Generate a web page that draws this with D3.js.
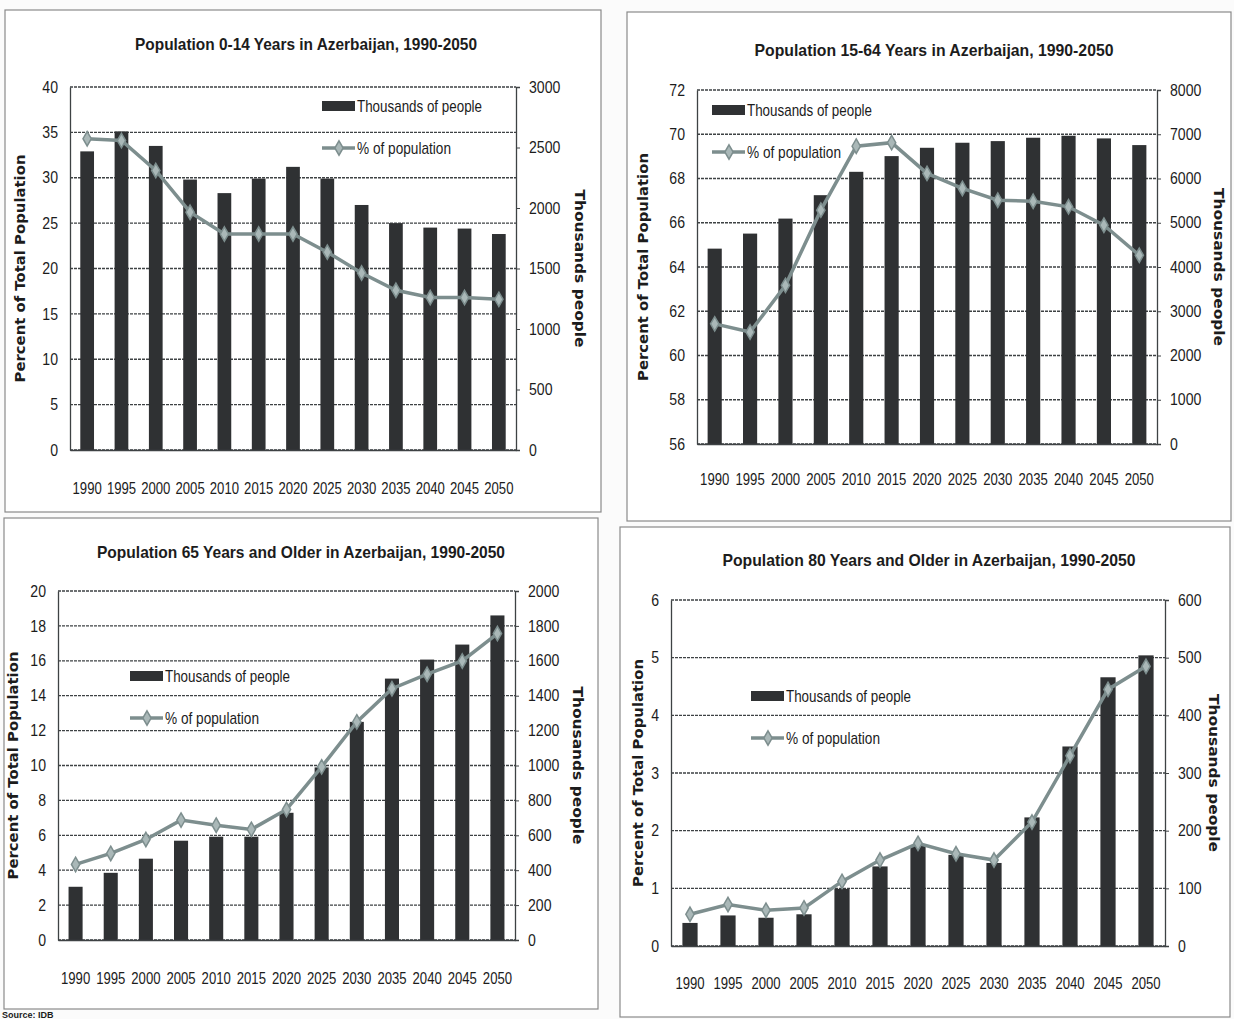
<!DOCTYPE html>
<html>
<head>
<meta charset="utf-8">
<script src="https://cdn.jsdelivr.net/npm/d3@7"></script>
<style>
  html, body { margin: 0; padding: 0; background: #ffffff; }
  svg { display: block; }
</style>
</head>
<body>
<svg id="chart" width="1234" height="1019"></svg>
<script>
// ---------------- DATA ----------------
const years = ["1990","1995","2000","2005","2010","2015","2020","2025","2030","2035","2040","2045","2050"];

// Population 0-14
const pop014Thousands = [2468, 2633, 2513, 2235, 2123, 2243, 2340, 2243, 2025, 1875, 1838, 1830, 1785];
const pop014Percent   = [34.3, 34.1, 30.8, 26.2, 23.8, 23.8, 23.8, 21.8, 19.5, 17.6, 16.8, 16.8, 16.6];

// Population 15-64
const pop1564Thousands = [4415, 4755, 5094, 5623, 6151, 6506, 6694, 6808, 6845, 6921, 6966, 6906, 6755];
const pop1564Percent   = [61.43, 61.06, 63.17, 66.57, 69.46, 69.62, 68.23, 67.55, 67.02, 66.97, 66.72, 65.89, 64.53];

// Population 65+
const pop65Thousands = [305, 385, 466, 569, 592, 592, 729, 989, 1250, 1498, 1607, 1693, 1860];
const pop65Percent   = [4.33, 4.96, 5.76, 6.87, 6.58, 6.34, 7.48, 9.92, 12.5, 14.4, 15.23, 15.99, 17.56];

// Population 80+
const pop80Thousands = [40, 53, 49, 55, 99, 138, 175, 158, 144, 223, 346, 466, 504];
const pop80Percent   = [0.55, 0.72, 0.62, 0.66, 1.12, 1.49, 1.78, 1.60, 1.49, 2.15, 3.30, 4.45, 4.85];

// Tick labels
const ticksLeft014  = [0, 5, 10, 15, 20, 25, 30, 35, 40];
const ticksRight014 = [0, 500, 1000, 1500, 2000, 2500, 3000];
const ticksLeft1564  = [56, 58, 60, 62, 64, 66, 68, 70, 72];
const ticksRight1564 = [0, 1000, 2000, 3000, 4000, 5000, 6000, 7000, 8000];
const ticksLeft65  = [0, 2, 4, 6, 8, 10, 12, 14, 16, 18, 20];
const ticksRight65 = [0, 200, 400, 600, 800, 1000, 1200, 1400, 1600, 1800, 2000];
const ticksLeft80  = [0, 1, 2, 3, 4, 5, 6];
const ticksRight80 = [0, 100, 200, 300, 400, 500, 600];

const titles = [
  "Population 0-14 Years in Azerbaijan, 1990-2050",
  "Population 15-64 Years in Azerbaijan, 1990-2050",
  "Population 65 Years and Older in Azerbaijan, 1990-2050",
  "Population 80 Years and Older in Azerbaijan, 1990-2050"
];
const legendBar = "Thousands of people";
const legendLine = "% of population";
const leftTitle = "Percent of Total Population";
const rightTitle = "Thousands people";
const sourceNote = "Source: IDB";

// ---------------- LAYOUT ----------------
const panels = [
  { title: titles[0], bars: pop014Thousands, line: pop014Percent,
    lt: ticksLeft014, rt: ticksRight014,
    box: [5, 10, 596, 502], plot: {l: 70, r: 516, t: 87, b: 450}, titleX: 306, titleY: 50, titleW: 342,
    legend: {x: 322, y1: 106, y2: 148}, leftTitleX: 21, rightTitleX: 579, xlabY: 495 },
  { title: titles[1], bars: pop1564Thousands, line: pop1564Percent,
    lt: ticksLeft1564, rt: ticksRight1564,
    box: [627, 12, 604, 509], plot: {l: 697, r: 1157, t: 90, b: 444}, titleX: 934, titleY: 56, titleW: 359,
    legend: {x: 712, y1: 110, y2: 152}, leftTitleX: 644, rightTitleX: 1218, xlabY: 486 },
  { title: titles[2], bars: pop65Thousands, line: pop65Percent,
    lt: ticksLeft65, rt: ticksRight65,
    box: [4, 518, 594, 491], plot: {l: 58, r: 515, t: 591, b: 940}, titleX: 301, titleY: 558, titleW: 408,
    legend: {x: 130, y1: 676, y2: 718}, leftTitleX: 14, rightTitleX: 577, xlabY: 985 },
  { title: titles[3], bars: pop80Thousands, line: pop80Percent,
    lt: ticksLeft80, rt: ticksRight80,
    box: [620, 527, 610, 490], plot: {l: 671, r: 1165, t: 600, b: 946}, titleX: 929, titleY: 566, titleW: 413,
    legend: {x: 751, y1: 696, y2: 738}, leftTitleX: 639, rightTitleX: 1213, xlabY: 990 }
];

const FONT = "'Liberation Sans', Arial, sans-serif";
const BOLDFONT = "'DejaVu Sans', 'Liberation Sans', sans-serif";
const barColor = "#2f3133";
const lineColor = "#7d8e8e";
const markerFill = "#aab8b8";
const gridColor = "#3e4244";
const textColor = "#1c1c1c";

// horizontally condense texts to mimic the narrow scanned font
function condense(sel, factor) {
  sel.each(function () {
    const w = this.getComputedTextLength();
    d3.select(this).attr("textLength", w * factor).attr("lengthAdjust", "spacingAndGlyphs");
  });
}
function fitWidth(sel, w) {
  sel.attr("textLength", w).attr("lengthAdjust", "spacingAndGlyphs");
}

const svg = d3.select("#chart");
svg.append("rect").attr("width", 1234).attr("height", 1019).attr("fill", "#fbfbfb");

panels.forEach(p => {
  const g = svg.append("g");
  const [bx, by, bw, bh] = p.box;
  g.append("rect").attr("x", bx).attr("y", by).attr("width", bw).attr("height", bh)
    .attr("fill", "#ffffff").attr("stroke", "#8a8a8a").attr("stroke-width", 1.2);

  const {l, r, t, b} = p.plot;
  const x = d3.scaleBand().domain(years).range([l, r]).paddingInner(0.6).paddingOuter(0.3);
  const yL = d3.scaleLinear().domain([p.lt[0], p.lt[p.lt.length - 1]]).range([b, t]);
  const yR = d3.scaleLinear().domain([p.rt[0], p.rt[p.rt.length - 1]]).range([b, t]);

  // title
  g.append("text").attr("x", p.titleX).attr("y", p.titleY)
    .attr("text-anchor", "middle").attr("font-family", FONT).attr("font-weight", "bold")
    .attr("font-size", 17).attr("fill", textColor).text(p.title)
    .call(fitWidth, p.titleW);

  // gridlines (left ticks)
  g.append("g").selectAll("line").data(p.lt).join("line")
    .attr("x1", l).attr("x2", r).attr("y1", d => yL(d)).attr("y2", d => yL(d))
    .attr("stroke", gridColor).attr("stroke-width", 1.3).attr("stroke-dasharray", "3,1");

  // bars
  g.append("g").selectAll("rect").data(p.bars).join("rect")
    .attr("x", (d, i) => x(years[i])).attr("width", x.bandwidth())
    .attr("y", d => yR(d)).attr("height", d => yR(p.rt[0]) - yR(d))
    .attr("fill", barColor);

  // left axis
  const axL = g.append("g").attr("transform", `translate(${l},0)`)
    .call(d3.axisLeft(yL).tickValues(p.lt).tickSize(0).tickPadding(12).tickFormat(d3.format("d")));
  axL.select(".domain").attr("stroke", gridColor).attr("stroke-width", 1.3);
  axL.selectAll("text").attr("font-family", FONT).attr("font-size", 16).attr("fill", textColor).call(condense, 0.88);

  // right axis
  const axR = g.append("g").attr("transform", `translate(${r},0)`)
    .call(d3.axisRight(yR).tickValues(p.rt).tickSize(4).tickPadding(9).tickFormat(d3.format("d")));
  axR.select(".domain").attr("stroke", gridColor).attr("stroke-width", 1.3);
  axR.selectAll("line").attr("stroke", gridColor);
  axR.selectAll("text").attr("font-family", FONT).attr("font-size", 16).attr("fill", textColor).call(condense, 0.88);

  // bottom axis
  const axB = g.append("g").attr("transform", `translate(0,${b})`)
    .call(d3.axisBottom(x).tickSize(0).tickPadding(p.xlabY - b - 12));
  axB.select(".domain").attr("stroke", gridColor).attr("stroke-width", 1.6);
  axB.selectAll("text").attr("font-family", FONT).attr("font-size", 16).attr("fill", textColor).call(condense, 0.82);

  // line
  const line = d3.line().x((d, i) => x(years[i]) + x.bandwidth() / 2).y(d => yL(d));
  g.append("path").datum(p.line).attr("d", line)
    .attr("fill", "none").attr("stroke", lineColor).attr("stroke-width", 3.5);
  const diamond = d3.symbol().type(d3.symbolDiamond).size(60);
  g.append("g").selectAll("path").data(p.line).join("path")
    .attr("d", diamond)
    .attr("transform", (d, i) => `translate(${x(years[i]) + x.bandwidth() / 2},${yL(d)})`)
    .attr("fill", markerFill).attr("stroke", lineColor).attr("stroke-width", 1.5);

  // legend
  const lg = p.legend;
  g.append("rect").attr("x", lg.x).attr("y", lg.y1 - 5).attr("width", 33).attr("height", 10).attr("fill", barColor);
  g.append("text").attr("x", lg.x + 35).attr("y", lg.y1 + 6).attr("font-family", FONT)
    .attr("font-size", 17).attr("fill", textColor).text(legendBar).call(fitWidth, 125);
  g.append("line").attr("x1", lg.x).attr("x2", lg.x + 33).attr("y1", lg.y2).attr("y2", lg.y2)
    .attr("stroke", lineColor).attr("stroke-width", 3.5);
  g.append("path").attr("d", diamond).attr("transform", `translate(${lg.x + 17},${lg.y2})`)
    .attr("fill", markerFill).attr("stroke", lineColor).attr("stroke-width", 1.5);
  g.append("text").attr("x", lg.x + 35).attr("y", lg.y2 + 6).attr("font-family", FONT)
    .attr("font-size", 17).attr("fill", textColor).text(legendLine).call(fitWidth, 94);

  // axis titles
  const midY = (t + b) / 2;
  g.append("text").attr("transform", `translate(${p.leftTitleX},${midY}) rotate(-90)`)
    .attr("text-anchor", "middle").attr("dominant-baseline", "middle")
    .attr("font-family", BOLDFONT).attr("font-weight", "bold").attr("font-size", 14.5)
    .attr("fill", textColor).text(leftTitle).call(fitWidth, 228);
  g.append("text").attr("transform", `translate(${p.rightTitleX},${midY}) rotate(90)`)
    .attr("text-anchor", "middle").attr("dominant-baseline", "middle")
    .attr("font-family", BOLDFONT).attr("font-weight", "bold").attr("font-size", 14.5)
    .attr("fill", textColor).text(rightTitle).call(fitWidth, 158);
});

// source note (bottom-left)
svg.append("text").attr("x", 2).attr("y", 1018).attr("font-family", FONT)
  .attr("font-weight", "bold").attr("font-size", 9).attr("fill", textColor).text(sourceNote);
</script>
</body>
</html>
